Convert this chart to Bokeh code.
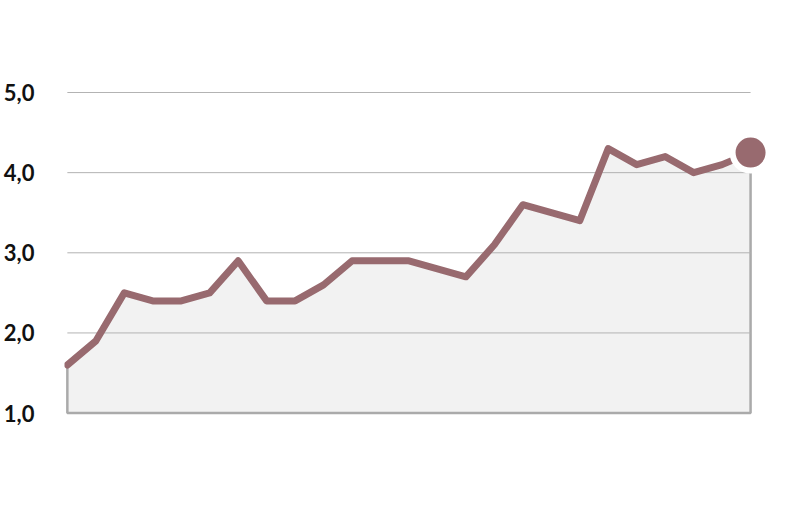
from bokeh.plotting import figure
from bokeh.models import Range1d, FixedTicker, ColumnDataSource
from bokeh.embed import file_html
from bokeh.resources import INLINE

# data
values = [1.6, 1.9, 2.5, 2.4, 2.4, 2.5, 2.9, 2.4, 2.4, 2.6, 2.9, 2.9, 2.9,
          2.8, 2.7, 3.1, 3.6, 3.5, 3.4, 4.3, 4.1, 4.2, 4.0, 4.1, 4.25]
x_idx = list(range(len(values)))
y_ticks = [1.0, 2.0, 3.0, 4.0, 5.0]
y_tick_labels = ["1,0", "2,0", "3,0", "4,0", "5,0"]
grid_vals = [2.0, 3.0, 4.0, 5.0]
base = 1.0

LINE = "#986a6f"

p = figure(width=792, height=490, output_backend="svg", toolbar_location=None,
           x_range=Range1d(-0.1, 24.7), y_range=Range1d(0.97, 5.05),
           min_border_left=63, min_border_right=22, min_border_top=88,
           min_border_bottom=75)
p.outline_line_color = None
p.xaxis.visible = False
p.xgrid.visible = False
p.ygrid.visible = False
p.background_fill_color = "white"
p.border_fill_color = "white"

ax = p.yaxis[0]
ax.ticker = FixedTicker(ticks=y_ticks)
ax.major_label_overrides = {t: l for t, l in zip(y_ticks, y_tick_labels)}
ax.axis_line_color = None
ax.major_tick_line_color = None
ax.minor_tick_line_color = None
ax.major_tick_out = 0
ax.major_tick_in = 0
ax.minor_tick_out = 0
ax.minor_tick_in = 0
ax.major_label_standoff = 30
ax.major_label_text_font = "Lato"
ax.major_label_text_font_style = "bold"
ax.major_label_text_font_size = "22px"
ax.major_label_text_color = "#111111"

# area
last = x_idx[-1]
px = x_idx + [last, 0]
py = values + [base, base]
p.patch(px, py, fill_color="#f2f2f2", line_color="#aaaaaa", line_width=2.5)

# gridlines
gsrc = ColumnDataSource(dict(x0=[0] * len(grid_vals), x1=[last] * len(grid_vals),
                             y=grid_vals))
p.segment(x0="x0", y0="y", x1="x1", y1="y", source=gsrc,
          line_color="#b3b3b3", line_width=1)

# line
p.line(x_idx, values, line_color=LINE, line_width=7, line_join="round",
       line_cap="round")

# end dot
p.scatter([x_idx[-1]], [values[-1]], size=42, fill_color="white", line_color=None)
p.scatter([x_idx[-1]], [values[-1]], size=30, fill_color=LINE, line_color=None)

open("out.html", "w").write(file_html(p, INLINE))
